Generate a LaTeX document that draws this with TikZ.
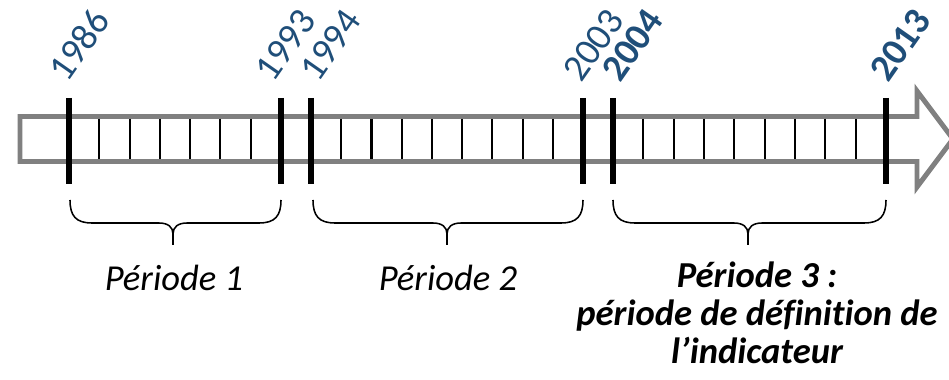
\documentclass[tikz,border=0pt]{standalone}
\usepackage{fontspec}
\setmainfont[Ligatures=NoCommon]{Carlito}
\definecolor{yearblue}{HTML}{1F4E79}
\definecolor{arrowgray}{HTML}{808080}
\tikzset{
    bigtick/.style={line width=4.2pt},
    smalltick/.style={line width=1.5pt},
    yearlabel/.style={text=yearblue, rotate=55, anchor=base west, inner sep=0pt,
        font=\fontsize{27}{27}\selectfont},
    boldyear/.style={yearlabel, font=\fontsize{27}{27}\selectfont\bfseries},
    bracestyle/.style={line width=1.1pt},
    periodtext/.style={inner sep=0pt, align=center,
        font=\fontsize{26}{27}\selectfont\itshape},
}
% one brace under a period: left end, right end, tip
\newcommand{\periodbrace}[3]{%
    \draw[bracestyle] (#1,200) .. controls (#1,216) and (#1+6,223) .. (#1+22,223)
        -- (#3-14,223) .. controls (#3-5,223) and (#3,227) .. (#3,234) -- (#3,245);
    \draw[bracestyle] (#2,200) .. controls (#2,216) and (#2-6,223) .. (#2-22,223)
        -- (#3+14,223) .. controls (#3+5,223) and (#3,227) .. (#3,234);
}

\begin{document}
\begin{tikzpicture}[x=0.025cm, y=-0.025cm]
    \useasboundingbox (0,0) rectangle (949,380);
    % the arrow
    \draw[arrowgray, line width=3.5pt, fill=white]
        (20,116.5) -- (917,116.5) -- (917,91) -- (953,139)
        -- (917,187) -- (917,161.5) -- (20,161.5) -- cycle;
    % years
    \foreach \x/\yr in {69/1986, 281/1993, 311/1994, 583/2003, 613/2004, 886/2013}{
        \coordinate (t\yr) at (\x,98);
        \coordinate (b\yr) at (\x,184);
        \draw[bigtick] (t\yr) -- (b\yr);
    }
    \foreach \a/\b/\n in {69/281/6, 311/583/8, 613/886/8}{
        \foreach \i [evaluate=\i as \x using {\a+\i*(\b-\a)/(\n+1)}] in {1,...,\n}
            \draw[smalltick] (\x,119) -- (\x,159.5);
    }
    \node[yearlabel] (l1986) at (67,84) {1986};
    \node[yearlabel] (l1993) at (273,84) {1993};
    \node[yearlabel] (l1994) at (318,84) {1994};
    \node[yearlabel] (l2003) at (581,84) {2003};
    \node[boldyear] (l2004) at (620,84) {2004};
    \node[boldyear] (l2013) at (888,84) {2013};
    % periods
    \periodbrace{70}{281}{173}
    \periodbrace{313}{583}{447}
    \periodbrace{613}{886}{748}
    \node[periodtext, anchor=base] (p1) at (174,290) {Période 1};
    \node[periodtext, anchor=base] (p2) at (448,290) {Période 2};
    \node[periodtext, anchor=north, font=\fontsize{26}{27}\selectfont\bfseries\itshape]
        (p3) at (757,262) {Période 3 :\\période de définition de\\l’indicateur};
\end{tikzpicture}
\end{document}
